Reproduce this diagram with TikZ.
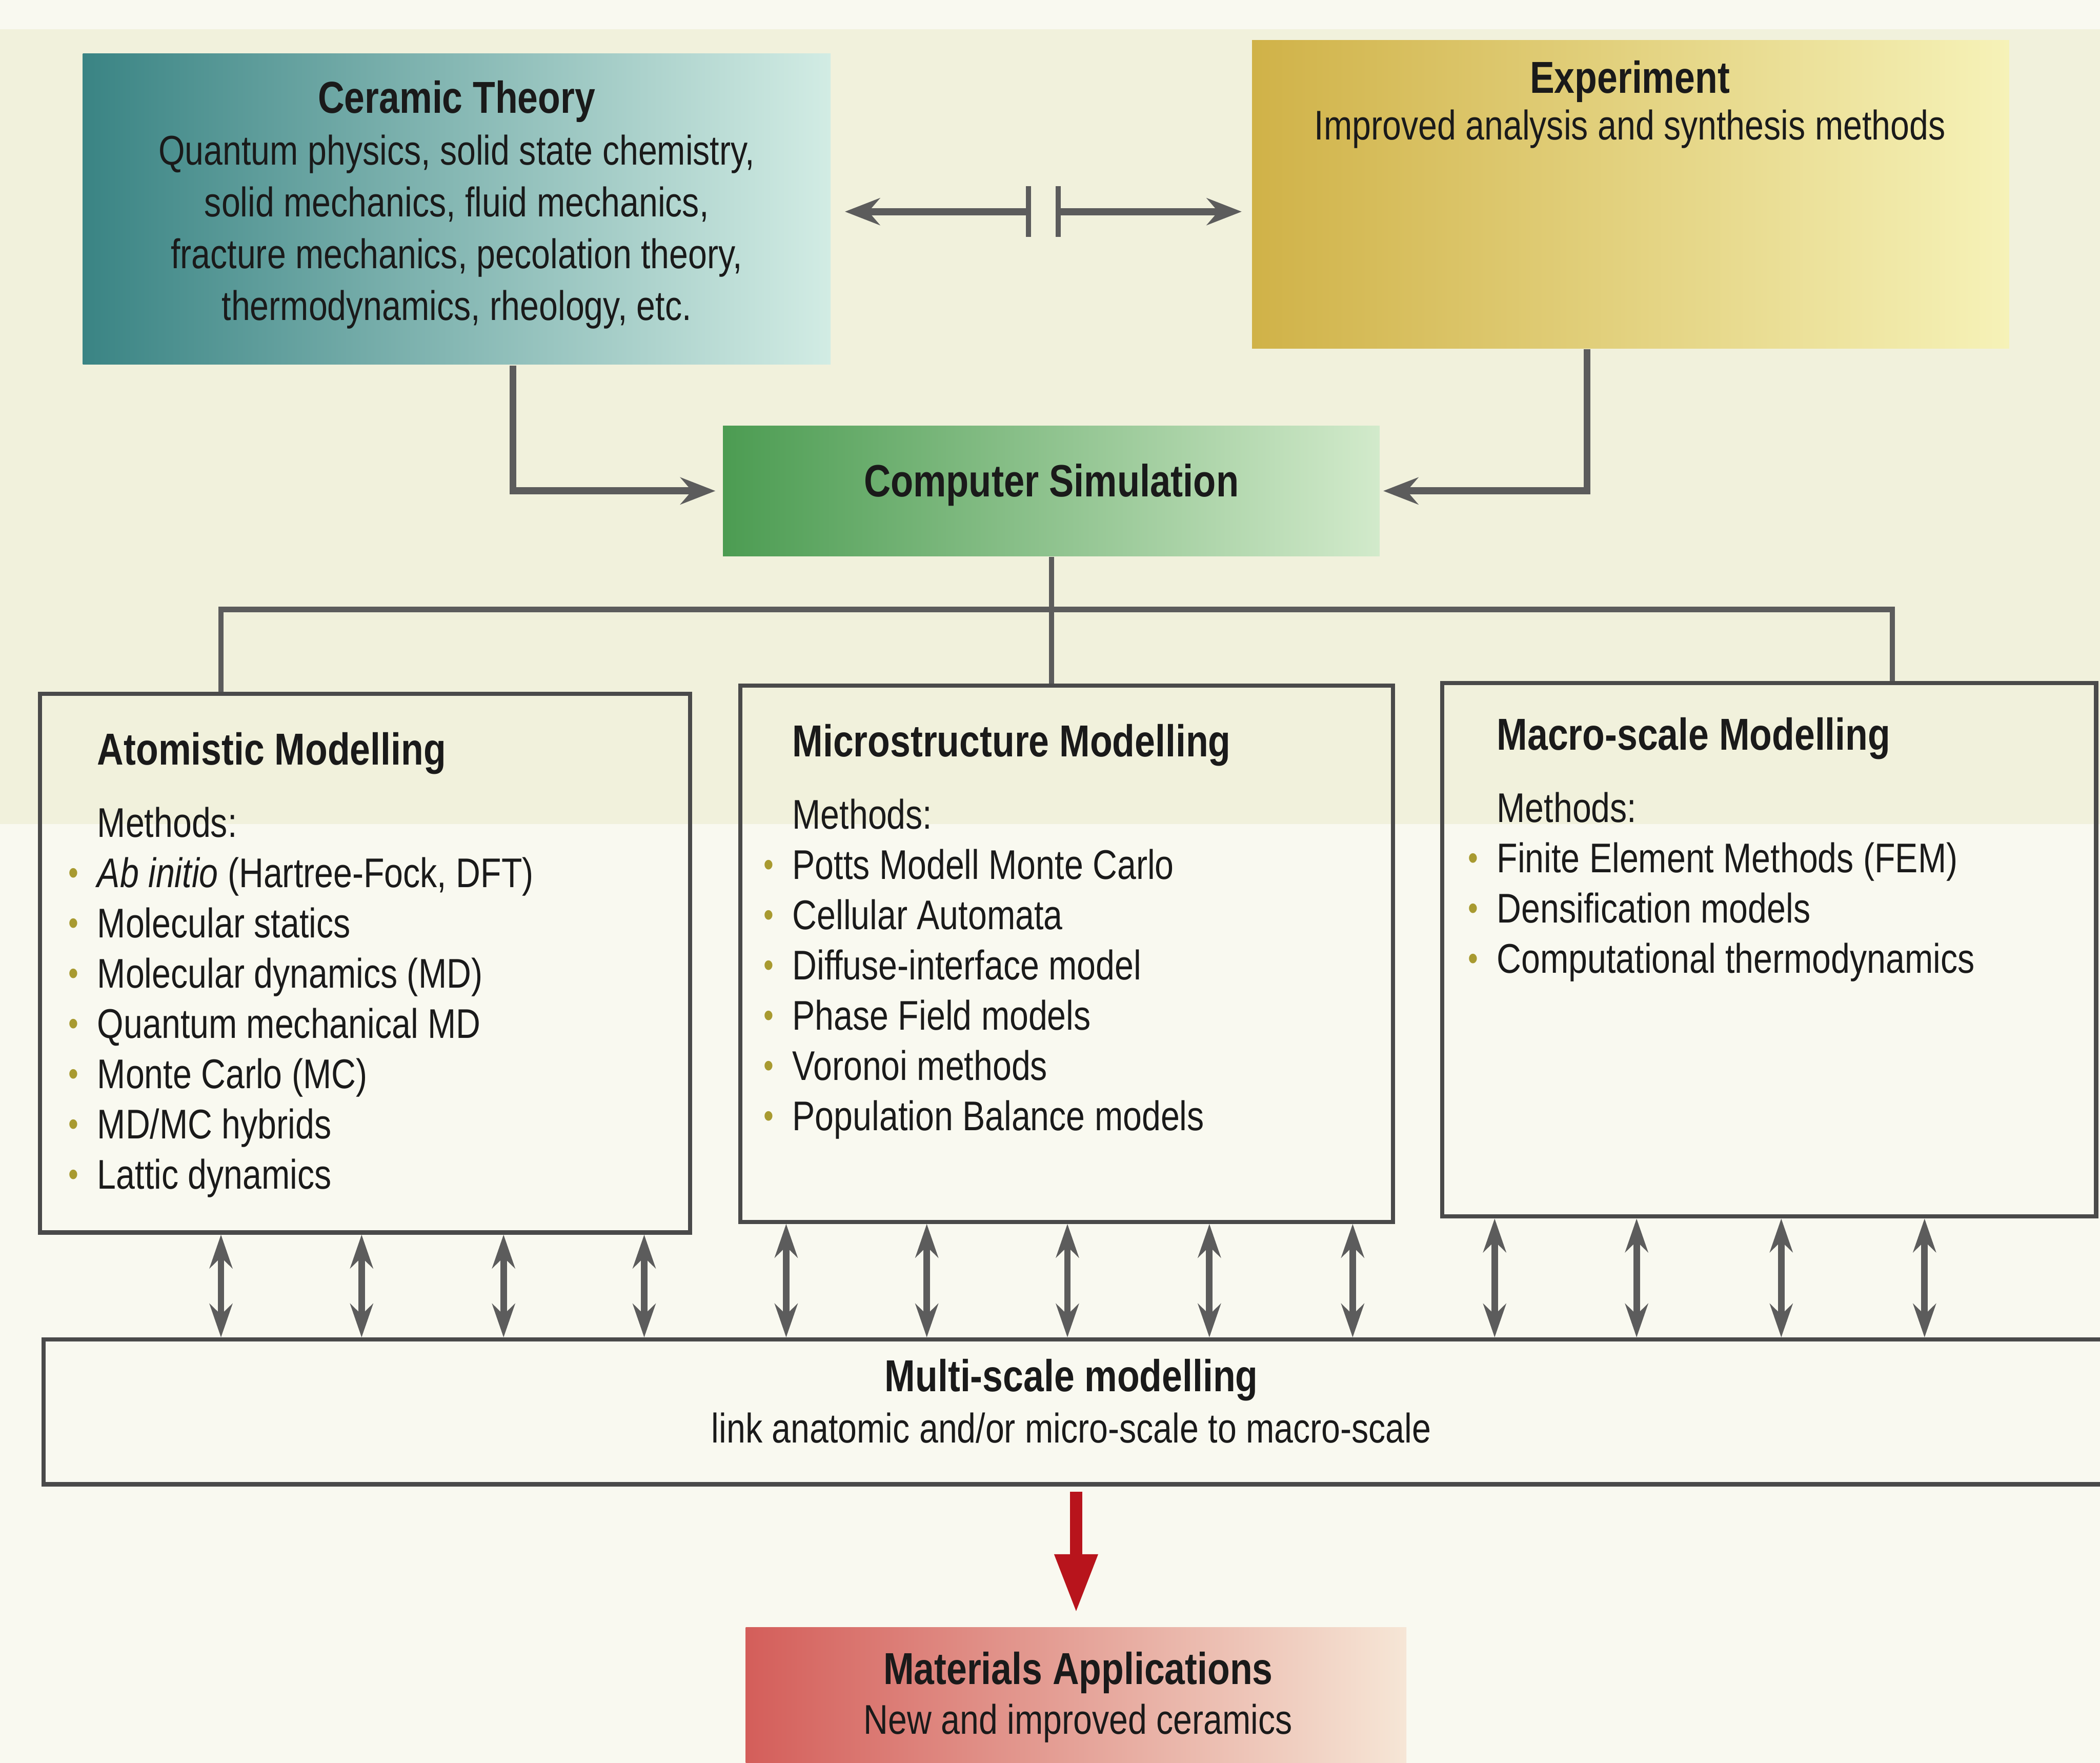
\documentclass[tikz,border=0pt]{standalone}
\usepackage{fontspec}
\setmainfont[FakeStretch=0.82]{Liberation Sans}
\usetikzlibrary{arrows.meta,calc}
\definecolor{bgtop}{HTML}{F1F1DC}
\definecolor{bgbot}{HTML}{F9F9F0}
\definecolor{ink}{HTML}{1A1A1A}
\definecolor{conn}{HTML}{5C5C5C}
\definecolor{frame}{HTML}{4A4A4A}
\definecolor{bulc}{HTML}{A89A30}
\definecolor{tealL}{HTML}{3A8484}
\definecolor{tealR}{HTML}{D2ECE4}
\definecolor{ochreL}{HTML}{D0B248}
\definecolor{ochreR}{HTML}{F6F2B8}
\definecolor{greenL}{HTML}{4C9C52}
\definecolor{greenR}{HTML}{D2EACB}
\definecolor{redL}{HTML}{D45E5A}
\definecolor{redR}{HTML}{F6E6D6}
\definecolor{arrred}{HTML}{B8141C}
\newcommand{\bul}{\llap{\textcolor{bulc}{\fontsize{7.5}{7}\selectfont\raisebox{0.15ex}{•}}\hspace{4pt}}}
\begin{document}
\begin{tikzpicture}[x=0.01cm,y=-0.01cm,
  colbox/.style={draw=none,inner sep=0pt,rectangle},
  modbox/.style={draw=frame,line width=0.9pt,inner sep=0pt,rectangle},
  txt/.style={inner sep=0pt,text=ink,font=\fontsize{8.8}{11}\selectfont,align=center},
  listtxt/.style={inner sep=0pt,text=ink,font=\fontsize{8.8}{10.67}\selectfont,align=left,anchor=north west},
  conarr/.style={draw=conn,line width=1.5pt,-{Stealth[length=0.26cm,width=0.2cm]}},
  treeline/.style={draw=conn,line width=1.1pt},
  dblarr/.style={draw=conn,line width=1.4pt,{Stealth[length=0.25cm,width=0.17cm]}-{Stealth[length=0.25cm,width=0.17cm]}},
  redarr/.style={draw=arrred,line width=2.6pt,-{Triangle[length=0.44cm,width=0.3cm]}}
]
% background
\useasboundingbox (0,0) rectangle (1568,1316);
\fill[bgbot] (0,0) rectangle (1568,1316);
\fill[bgtop] (0,22) rectangle (1568,615);

% coloured boxes
\node[colbox,minimum width=5.58cm,minimum height=2.32cm,left color=tealL,right color=tealR] (ceramic) at (341,156) {};
\node[colbox,minimum width=5.65cm,minimum height=2.30cm,left color=ochreL,right color=ochreR] (exper) at (1217.5,145) {};
\node[colbox,minimum width=4.90cm,minimum height=0.97cm,left color=greenL,right color=greenR] (sim) at (785,366.5) {};
\node[colbox,minimum width=4.93cm,minimum height=1.15cm,left color=redL,right color=redR] (mat) at (803.5,1272.5) {};

% texts in coloured boxes
\node[txt] (ceramictxt) at (341,153) {{\fontsize{9.5}{11}\selectfont\bfseries Ceramic Theory}\\Quantum physics, solid state chemistry,\\solid mechanics, fluid mechanics,\\fracture mechanics, pecolation theory,\\thermodynamics, rheology, etc.};
\node[txt,font=\fontsize{8.8}{10}\selectfont] (expertxt) at (1217,78) {{\fontsize{9.5}{10}\selectfont\bfseries Experiment}\\Improved analysis and synthesis methods};
\node[txt] (simtxt) at (785,362) {{\fontsize{9.6}{11}\selectfont\bfseries Computer Simulation}};
\node[txt,font=\fontsize{8.8}{10.5}\selectfont] (mattxt) at (805,1267) {{\fontsize{9.5}{10.5}\selectfont\bfseries Materials Applications}\\New and improved ceramics};

% modelling boxes
\node[modbox,minimum width=4.85cm,minimum height=4.02cm] (atom) at (272.5,719) {};
\node[modbox,minimum width=4.87cm,minimum height=4.00cm] (micro) at (796.5,712) {};
\node[modbox,minimum width=4.88cm,minimum height=3.98cm] (macro) at (1321,709) {};
\node[modbox,minimum width=15.47cm,minimum height=1.08cm] (multi) at (806.5,1054) {};

\node[listtxt] (atomtxt) at (72,546) {{\fontsize{9.5}{10.67}\selectfont\bfseries Atomistic Modelling}\\[4.7pt]
Methods:\\
\bul\textit{Ab initio} (Hartree-Fock, DFT)\\
\bul Molecular statics\\
\bul Molecular dynamics (MD)\\
\bul Quantum mechanical MD\\
\bul Monte Carlo (MC)\\
\bul MD/MC hybrids\\
\bul Lattic dynamics};
\node[listtxt] (microtxt) at (591,540) {{\fontsize{9.5}{10.67}\selectfont\bfseries Microstructure Modelling}\\[4.7pt]
Methods:\\
\bul Potts Modell Monte Carlo\\
\bul Cellular Automata\\
\bul Diffuse-interface model\\
\bul Phase Field models\\
\bul Voronoi methods\\
\bul Population Balance models};
\node[listtxt] (macrotxt) at (1117,535) {{\fontsize{9.5}{10.67}\selectfont\bfseries Macro-scale Modelling}\\[4.7pt]
Methods:\\
\bul Finite Element Methods (FEM)\\
\bul Densification models\\
\bul Computational thermodynamics};

\node[txt,font=\fontsize{8.8}{10.8}\selectfont] (multitxt) at (800,1046) {{\fontsize{9.5}{10.8}\selectfont\bfseries Multi-scale modelling}\\link anatomic and/or micro-scale to macro-scale};

% ceramic <-> experiment
\coordinate (bl) at (768,158);
\coordinate (br) at (790,158);
\draw[conarr,shorten >=0.1cm] (bl) -- (ceramic.east |- bl);
\draw[conarr,shorten >=0.07cm] (br) -- (exper.west |- br);
\draw[draw=conn,line width=1.1pt] ($(bl)+(0,-19)$) -- ($(bl)+(0,19)$);
\draw[draw=conn,line width=1.1pt] ($(br)+(0,-19)$) -- ($(br)+(0,19)$);

% to computer simulation
\coordinate (c1) at (383,0);
\coordinate (c2) at (1185,0);
\draw[conarr,shorten >=0.05cm] (c1 |- ceramic.south) |- (sim.west);
\draw[conarr,shorten >=0.02cm] (c2 |- exper.south) |- (sim.east);

% tree
\coordinate (jl) at (165,455);
\coordinate (jr) at (1413,455);
\draw[treeline] (sim.south) -- (sim.south |- micro.north);
\draw[treeline] (jl |- atom.north) -- (jl) -- (jr) -- (jr |- macro.north);

% double arrows
\foreach \x in {165,270,376,481} {
  \coordinate (t) at (\x,0);
  \draw[dblarr] (t |- atom.south) -- (t |- multi.north);
}
\foreach \x in {587,692,797,903,1010} {
  \coordinate (t) at (\x,0);
  \draw[dblarr] (t |- micro.south) -- (t |- multi.north);
}
\foreach \x in {1116,1222,1330,1437} {
  \coordinate (t) at (\x,0);
  \draw[dblarr] (t |- macro.south) -- (t |- multi.north);
}

% red arrow
\draw[redarr,shorten <=0.04cm,shorten >=0.1cm] (mat.north |- multi.south) -- (mat.north);
\end{tikzpicture}
\end{document}
